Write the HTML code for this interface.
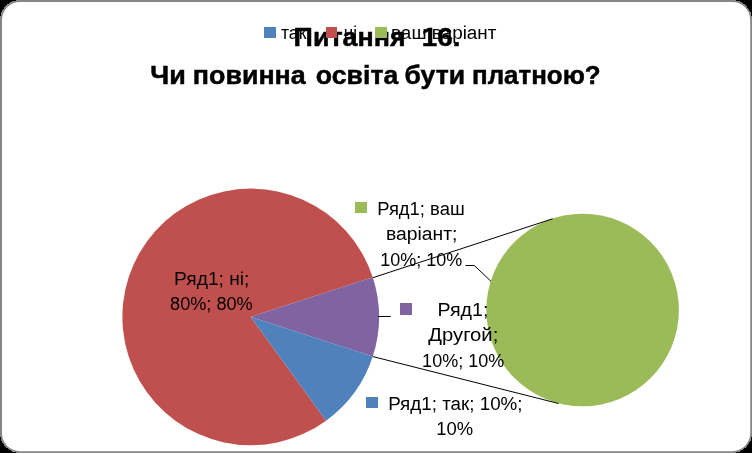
<!DOCTYPE html>
<html lang="uk"><head><meta charset="utf-8"><title>Chart</title>
<style>html,body{margin:0;padding:0;background:#000;}svg{display:block;will-change:transform;}</style></head>
<body>
<svg width="752" height="453" viewBox="0 0 752 453" font-family="'Liberation Sans', sans-serif" fill="#000">
<rect x="0" y="0" width="752" height="453" fill="#000"/>
<rect x="0" y="0" width="752" height="453" rx="20" ry="20" fill="#868686" shape-rendering="crispEdges"/>
<rect x="2" y="2" width="748.22" height="449.22" rx="18" ry="18" fill="#fff"/>
<g id="title" stroke="#000" stroke-width="0.5">
<text x="293.61" y="46.1" font-size="26.6" textLength="112.01" lengthAdjust="spacingAndGlyphs" font-weight="bold">Питання</text>
<text x="421.87" y="46.1" font-size="26.6" textLength="38.54" lengthAdjust="spacingAndGlyphs" font-weight="bold">16.</text>
<text x="150.32" y="84.1" font-size="26.6" textLength="35.53" lengthAdjust="spacingAndGlyphs" font-weight="bold">Чи</text>
<text x="192.85" y="84.1" font-size="26.6" textLength="112.89" lengthAdjust="spacingAndGlyphs" font-weight="bold">повинна</text>
<text x="315.87" y="84.1" font-size="26.6" textLength="82.43" lengthAdjust="spacingAndGlyphs" font-weight="bold">освіта</text>
<text x="404.53" y="84.1" font-size="26.6" textLength="60.53" lengthAdjust="spacingAndGlyphs" font-weight="bold">бути</text>
<text x="471.99" y="84.1" font-size="26.6" textLength="128.7" lengthAdjust="spacingAndGlyphs" font-weight="bold">платною?</text>
</g>
<g id="legend">
<rect x="264" y="27" width="12" height="11" fill="#4F81BD"/>
<rect x="326" y="27" width="11" height="11" fill="#C0504D"/>
<rect x="375" y="27" width="12" height="11" fill="#9BBB59"/>
<text x="281.0" y="39.2" font-size="17.6" textLength="25.35" lengthAdjust="spacingAndGlyphs">так</text>
<text x="343.73" y="39.2" font-size="17.6" textLength="13.24" lengthAdjust="spacingAndGlyphs">ні</text>
<text x="391.06" y="39.2" font-size="17.6" textLength="105.41" lengthAdjust="spacingAndGlyphs">ваш варіант</text>
</g>
<g id="pie">
<path d="M250.7,316.9 L326.11,420.70 A128.3,128.3 0 1 1 372.72,277.25 Z" fill="#C0504D"/>
<path d="M250.7,316.9 L372.72,277.25 A128.3,128.3 0 0 1 372.72,356.55 Z" fill="#8064A2"/>
<path d="M250.7,316.9 L372.72,356.55 A128.3,128.3 0 0 1 326.11,420.70 Z" fill="#4F81BD"/>
</g>
<circle cx="582.6" cy="310.0" r="96.3" fill="#9BBB59"/>
<g stroke="#000" stroke-width="1" fill="none">
<line x1="372.72" y1="277.75" x2="552.6" y2="218.8"/>
<line x1="372.72" y1="356.55" x2="558.7" y2="403.5"/>
<polyline points="465.5,265.5 474.3,265.5 491,281.3"/>
<line x1="378.50" y1="316.5" x2="390.8" y2="316.5"/>
</g>
<rect x="355" y="202" width="12" height="11" fill="#9BBB59"/>
<rect x="400" y="303" width="12" height="12" fill="#8064A2"/>
<rect x="366" y="397" width="12" height="11" fill="#4F81BD"/>
<g id="labels">
<text x="377.23" y="214.5" font-size="17.6" textLength="87.49" lengthAdjust="spacingAndGlyphs">Ряд1; ваш</text>
<text x="385.96" y="239.8" font-size="17.6" textLength="71.48" lengthAdjust="spacingAndGlyphs">варіант;</text>
<text x="380.35" y="265.8" font-size="17.6" textLength="81.96" lengthAdjust="spacingAndGlyphs">10%; 10%</text>
<text x="174.12" y="284.9" font-size="17.6" textLength="75.36" lengthAdjust="spacingAndGlyphs">Ряд1; ні;</text>
<text x="170.1" y="309.5" font-size="17.6" textLength="82.54" lengthAdjust="spacingAndGlyphs">80%; 80%</text>
<text x="437.55" y="315.8" font-size="17.6" textLength="50.85" lengthAdjust="spacingAndGlyphs">Ряд1;</text>
<text x="428.32" y="341.1" font-size="17.6" textLength="70.0" lengthAdjust="spacingAndGlyphs">Другой;</text>
<text x="422.13" y="366.5" font-size="17.6" textLength="82.19" lengthAdjust="spacingAndGlyphs">10%; 10%</text>
<text x="388.19" y="409.9" font-size="17.6" textLength="134.34" lengthAdjust="spacingAndGlyphs">Ряд1; так; 10%;</text>
<text x="436.19" y="434.6" font-size="17.6" textLength="36.92" lengthAdjust="spacingAndGlyphs">10%</text>
</g>
</svg>
</body></html>
